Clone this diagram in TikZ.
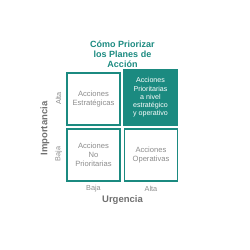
\documentclass[tikz,border=0pt]{standalone}
\usepackage{fontspec}
\setmainfont{Liberation Sans}
\definecolor{teal1}{HTML}{1B8A80}
\definecolor{txtgrey}{HTML}{8C8C8C}
\definecolor{axgrey}{HTML}{707070}
\begin{document}
\begin{tikzpicture}[x=1pt,y=-1pt,
  cell/.style={draw=teal1,line width=1.6pt,minimum width=53pt,minimum height=52pt,inner sep=0pt,align=center,font=\fontsize{7.6}{8.8}\selectfont,text=txtgrey},
  filled/.style={cell,fill=teal1,text=white,font=\fontsize{7.1}{8.2}\selectfont},
  axlab/.style={font=\bfseries\fontsize{9.5}{11}\selectfont,text=axgrey},
  ticklab/.style={font=\fontsize{7.3}{8.5}\selectfont,text=txtgrey}]
\useasboundingbox (0,0) rectangle (250,250);
\node[font=\bfseries\fontsize{9}{9.8}\selectfont,text=teal1,align=center] (title) at (122.5,54) {Cómo Priorizar\\los Planes de\\Acción};
\node[cell] (tl) at (93.5,99) {Acciones\\Estratégicas};
\node[filled,minimum height=55pt] (tr) at (150.5,97.5) {Acciones\\Prioritarias\\a nivel\\estratégico\\y operativo};
\node[cell] (bl) at (93.5,155) {Acciones\\No\\Prioritarias};
\node[cell] (br) at (151,155) {Acciones\\Operativas};
\node[axlab,rotate=90] (imp) at (45,128.5) {Importancia};
\node[ticklab,rotate=90] (ialta) at (58.5,98.5) {Alta};
\node[ticklab,rotate=90] (ibaja) at (58.5,154) {Baja};
\node[ticklab] (ubaja) at (93.5,189) {Baja};
\node[ticklab] (ualta) at (151,189) {Alta};
\node[axlab] (urg) at (122.5,200) {Urgencia};
\end{tikzpicture}
\end{document}
